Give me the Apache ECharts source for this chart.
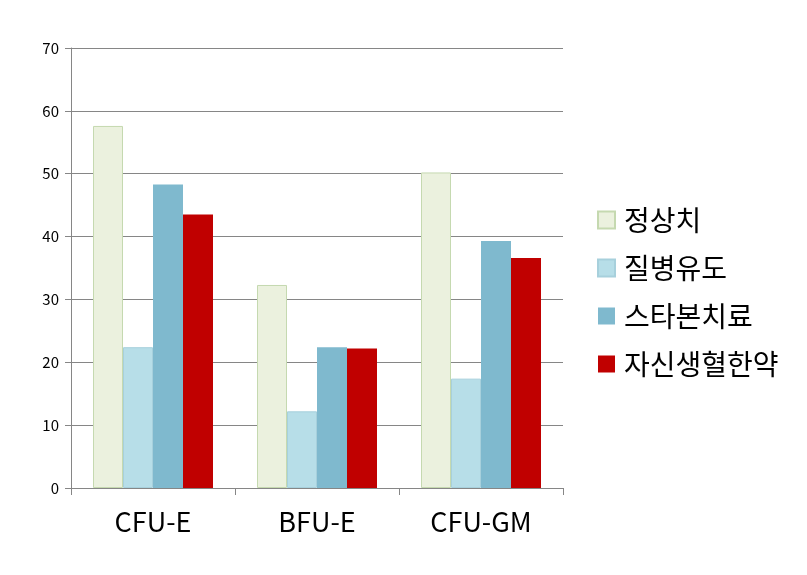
<!DOCTYPE html><html><head><meta charset="utf-8"><script src="https://cdn.jsdelivr.net/npm/echarts@6/dist/echarts.min.js"></script></head><body style="margin:0"><div id="c" style="width:807px;height:575px"></div><script>
const categories=['CFU-E','BFU-E','CFU-GM'];
const seriesNames=['정상치','질병유도','스타본치료','자신생혈한약'];
const normal=[57.6,32.3,50.2];
const disease=[22.4,12.2,17.4];
const statin=[48.3,22.4,39.3];
const herbal=[43.5,22.2,36.6];
const colors=['#EBF1DE','#B7DEE8','#7FB9CE','#C00000'];
const data=[normal,disease,statin,herbal];
const font='"Noto Sans CJK KR","Noto Sans",sans-serif';
const chart=echarts.init(document.getElementById('c'));
chart.setOption({
 animation:false,
 grid:{left:71,right:244,top:48,bottom:87},
 legend:{orient:'vertical',left:592,top:201,itemGap:20,itemWidth:17,itemHeight:17,icon:'rect',
   textStyle:{fontSize:28,fontFamily:font,color:'#000',padding:[0,0,0,4]}},
 xAxis:{type:'category',data:categories,axisLine:{lineStyle:{color:'#868686'}},
   axisTick:{show:true,length:7,lineStyle:{color:'#868686'}},
   axisLabel:{fontSize:27,fontFamily:font,color:'#000',margin:20}},
 yAxis:{type:'value',min:0,max:70,interval:10,
   axisLine:{show:true,lineStyle:{color:'#868686'}},axisTick:{show:true,length:6,lineStyle:{color:'#868686'}},
   splitLine:{lineStyle:{color:'#868686'}},
   axisLabel:{fontSize:15,fontFamily:font,color:'#000',margin:12}},
 series:seriesNames.map((n,i)=>({name:n,type:'bar',data:data[i],barWidth:30,barGap:'0%',
   itemStyle:{color:colors[i],borderColor:i==0?'#c5d9b0':(i==1?'#a7d0dc':colors[i]),borderWidth:i<2?1:0}}))
});
</script></body></html>
